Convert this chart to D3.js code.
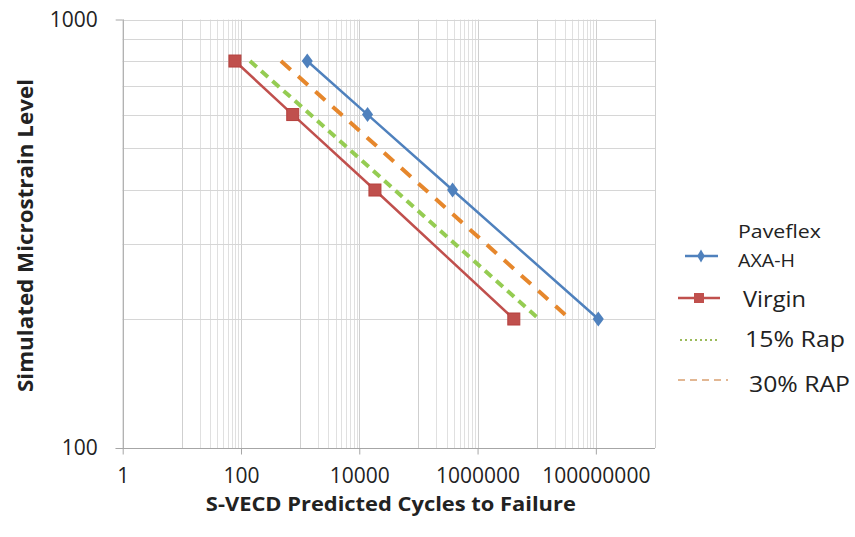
<!DOCTYPE html>
<html>
<head>
<meta charset="utf-8">
<script src="https://cdn.jsdelivr.net/npm/d3@7"></script>
<style>
  html, body { margin: 0; padding: 0; background: #fff; }
  svg { display: block; }
  text { font-family: "Open Sans", "Noto Sans", sans-serif; fill: #222; }
</style>
</head>
<body>
<svg id="chart" width="855" height="537"></svg>
<script>
// ---- data ----
const strainLevels = [800, 600, 400, 200];
const paveflexCycles = [1320, 13800, 378000, 110000000];
const virginCycles = [79, 750, 18400, 4100000];
const rap15Cycles = [142, 1490, 39800, 10900000];
const rap30Cycles = [474, 4990, 133000, 36400000];
const xTickValues = [1, 100, 10000, 1000000, 100000000];
const yTickValues = [100, 1000];
const xTitle = "S-VECD Predicted Cycles to Failure";
const yTitle = "Simulated Microstrain Level";

(function () {
const svg = d3.select("#chart");
const pLeft = 122.7, pRight = 655, pTop = 19.5, pBottom = 448;

const x = d3.scaleLog().domain([1, 1e9]).range([pLeft, pRight]);
const y = d3.scaleLog().domain([100, 1000]).range([pBottom, pTop]);

// ---- gridlines ----
const grid = svg.append("g");
const xGrid = [];
for (let k = 0; k < 5; k++) {
  const base = Math.pow(100, k);
  xGrid.push({ v: base, major: true });
  for (let m = 1; m <= 9; m++) {
    const v = m * 10 * base;
    if (v < 1e9) xGrid.push({ v: v, major: m === 1 });
  }
}
xGrid.push({ v: 1e9, major: true });
grid.selectAll("line.xg").data(xGrid).join("line")
  .attr("x1", d => Math.round(x(d.v)) + 0.5).attr("x2", d => Math.round(x(d.v)) + 0.5)
  .attr("y1", pTop).attr("y2", pBottom)
  .attr("stroke", d => d.major ? "#cfcfcf" : "#e0e0e0").attr("stroke-width", 1);
const yGrid = d3.range(200, 1001, 100);
grid.selectAll("line.yg").data(yGrid).join("line")
  .attr("x1", pLeft).attr("x2", pRight)
  .attr("y1", d => Math.round(y(d)) + 0.5).attr("y2", d => Math.round(y(d)) + 0.5)
  .attr("stroke", "#d6d6d6").attr("stroke-width", 1);

// ---- axes ----
const xAxis = svg.append("g").attr("transform", `translate(0,${pBottom + 0.5})`)
  .call(d3.axisBottom(x).tickValues(xTickValues).tickFormat(d3.format("d")).tickSize(6).tickPadding(14));
const yAxis = svg.append("g").attr("transform", `translate(${pLeft},0)`)
  .call(d3.axisLeft(y).tickValues(yTickValues).tickFormat(d3.format("d")).tickSize(7).tickPadding(18));
[xAxis, yAxis].forEach(a => {
  a.select(".domain").attr("stroke", "#a6a6a6");
  a.selectAll(".tick line").attr("stroke", "#a6a6a6");
  a.selectAll(".tick text").style("font-size", "21px").style("font-family", "Open Sans").attr("fill", "#222");
});
yAxis.select(".domain").attr("d", `M0.5,${pTop}V${pBottom}`);
xAxis.select(".domain").attr("d", `M${pLeft - 7},0H${pRight}`);

// ---- titles ----
svg.append("text").attr("x", (pLeft + pRight) / 2 + 2).attr("y", 511)
  .attr("text-anchor", "middle").style("font-size", "20px").style("font-weight", "bold")
  .attr("textLength", 370).attr("lengthAdjust", "spacingAndGlyphs").text(xTitle);
svg.append("text").attr("transform", "translate(33,235.5) rotate(-90)")
  .attr("text-anchor", "middle").style("font-size", "21px").style("font-weight", "bold")
  .attr("textLength", 313).attr("lengthAdjust", "spacingAndGlyphs").text(yTitle);

// ---- series ----
const series = [
  { name: "15% Rap", cycles: rap15Cycles, color: "#95cc52", width: 4, dash: "9,6" },
  { name: "30% RAP", cycles: rap30Cycles, color: "#e6872c", width: 4, dash: "13,10" },
  { name: "Virgin", cycles: virginCycles, color: "#c0504d", width: 2.5, dash: null, marker: "square" },
  { name: "Paveflex AXA-H", cycles: paveflexCycles, color: "#4f81bd", width: 2.5, dash: null, marker: "diamond" }
];
const line = d3.line().x(d => x(d[0])).y(d => y(d[1]));
series.forEach(s => {
  const pts = s.cycles.map((c, i) => [c, strainLevels[i]]);
  svg.append("path").datum(pts).attr("d", line).attr("fill", "none")
    .attr("stroke", s.color).attr("stroke-width", s.width)
    .attr("stroke-dasharray", s.dash);
  if (s.marker === "square") {
    svg.selectAll(null).data(pts).join("rect")
      .attr("x", d => x(d[0]) - 6).attr("y", d => y(d[1]) - 6)
      .attr("width", 12).attr("height", 12)
      .attr("fill", s.color).attr("stroke", "#b5403d").attr("stroke-width", 1);
  } else if (s.marker === "diamond") {
    svg.selectAll(null).data(pts).join("path")
      .attr("d", d3.symbol(d3.symbolDiamond, 80))
      .attr("transform", d => `translate(${x(d[0])},${y(d[1])}) scale(1.15,0.9)`)
      .attr("fill", s.color);
  }
});

// ---- legend ----
const lg = svg.append("g");
lg.append("line").attr("x1", 685).attr("x2", 718).attr("y1", 256).attr("y2", 256)
  .attr("stroke", "#4f81bd").attr("stroke-width", 2.5);
lg.append("path").attr("d", d3.symbol(d3.symbolDiamond, 50))
  .attr("transform", "translate(701,256)").attr("fill", "#4f81bd");
lg.append("text").attr("x", 738).attr("y", 238).style("font-size", "18.5px")
  .attr("textLength", 83).attr("lengthAdjust", "spacingAndGlyphs").text("Paveflex");
lg.append("text").attr("x", 738).attr("y", 267).style("font-size", "18.5px")
  .attr("textLength", 57).attr("lengthAdjust", "spacingAndGlyphs").text("AXA-H");
lg.append("line").attr("x1", 678).attr("x2", 720).attr("y1", 298).attr("y2", 298)
  .attr("stroke", "#c0504d").attr("stroke-width", 2.5);
lg.append("rect").attr("x", 694).attr("y", 293).attr("width", 10).attr("height", 10)
  .attr("fill", "#c0504d");
lg.append("text").attr("x", 743).attr("y", 307).style("font-size", "21px")
  .attr("textLength", 63).attr("lengthAdjust", "spacingAndGlyphs").text("Virgin");
lg.append("line").attr("x1", 680).attr("x2", 718).attr("y1", 340).attr("y2", 340)
  .attr("stroke", "#9bbb59").attr("stroke-width", 1.8).attr("stroke-dasharray", "2,3");
lg.append("text").attr("x", 745).attr("y", 347).style("font-size", "21px")
  .attr("textLength", 100).attr("lengthAdjust", "spacingAndGlyphs").text("15% Rap");
lg.append("line").attr("x1", 678).attr("x2", 728).attr("y1", 380).attr("y2", 380)
  .attr("stroke", "#d9a070").attr("stroke-width", 1.5).attr("stroke-dasharray", "7,5");
lg.append("text").attr("x", 749).attr("y", 392).style("font-size", "21px")
  .attr("textLength", 101).attr("lengthAdjust", "spacingAndGlyphs").text("30% RAP");
})();
</script>
</body>
</html>
